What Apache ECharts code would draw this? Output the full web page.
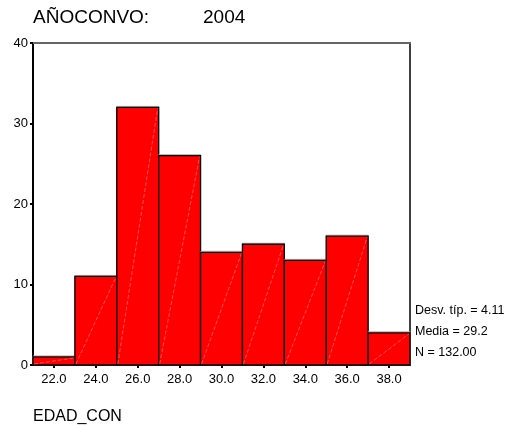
<!DOCTYPE html>
<html>
<head>
<meta charset="utf-8">
<script src="https://cdn.jsdelivr.net/npm/echarts@6/dist/echarts.min.js"></script>
<style>
html,body{margin:0;padding:0;background:#fff;}
#chart{width:512px;height:427px;}
</style>
</head>
<body>
<div id="chart"></div>
<script>
var categories = ["22.0","24.0","26.0","28.0","30.0","32.0","34.0","36.0","38.0"];
var counts = [1, 11, 32, 26, 14, 15, 13, 16, 4];
var yTicks = [0, 10, 20, 30, 40];
var titleLabel = "AÑOCONVO:";
var titleValue = "2004";
var xTitle = "EDAD_CON";
var statsLines = ["Desv. típ. = 4.11", "Media = 29.2", "N = 132.00"];

var FONT = "'Liberation Sans', Arial, sans-serif";
var chart = echarts.init(document.getElementById('chart'), null, {renderer: 'canvas'});

var seriesData = counts.map(function (v, i) { return [i, v]; });

var option = {
  animation: false,
  backgroundColor: '#fff',
  grid: {left: 33, right: 102, top: 43, bottom: 62},
  xAxis: [{
    type: 'category',
    data: categories,
    boundaryGap: true,
    position: 'bottom',
    axisLine: {show: true, onZero: false, lineStyle: {color: '#000', width: 1}},
    axisTick: {show: true, alignWithLabel: true, length: 3, lineStyle: {color: '#000', width: 2}},
    axisLabel: {fontFamily: FONT, fontSize: 13, color: '#000', margin: 8},
    splitLine: {show: false}
  }, {
    type: 'category',
    data: categories,
    position: 'top',
    axisLine: {show: true, onZero: false, lineStyle: {color: '#666', width: 2}},
    axisTick: {show: false},
    axisLabel: {show: false}
  }],
  yAxis: [{
    type: 'value',
    min: yTicks[0],
    max: yTicks[yTicks.length - 1],
    interval: 10,
    axisLine: {show: true, onZero: false, lineStyle: {color: '#000', width: 2}},
    axisTick: {show: true, length: 3, lineStyle: {color: '#000', width: 2}},
    axisLabel: {fontFamily: FONT, fontSize: 13, color: '#000', margin: 5},
    splitLine: {show: false}
  }, {
    type: 'value',
    min: yTicks[0],
    max: yTicks[yTicks.length - 1],
    interval: 10,
    position: 'right',
    axisLine: {show: true, onZero: false, lineStyle: {color: '#000', width: 1.5}},
    axisTick: {show: false},
    axisLabel: {show: false},
    splitLine: {show: false}
  }],
  series: [{
    type: 'custom',
    xAxisIndex: 0,
    yAxisIndex: 0,
    data: seriesData,
    renderItem: function (params, api) {
      var idx = api.value(0);
      var v = api.value(1);
      var p0 = api.coord([idx, 0]);
      var p1 = api.coord([idx, v]);
      var w = api.size([1, 0])[0];
      var x = p0[0] - w / 2;
      var y = p1[1];
      var h = p0[1] - p1[1];
      return {
        type: 'group',
        children: [{
          type: 'rect',
          shape: {x: x, y: y - 1, width: w, height: h + 1},
          style: {fill: 'none', stroke: '#aaa', lineWidth: 1}
        }, {
          type: 'rect',
          shape: {x: x, y: y, width: w, height: h},
          style: {fill: '#ff0000', stroke: '#000', lineWidth: 1.3}
        }, {
          type: 'line',
          shape: {x1: x + 1, y1: p0[1] - 1, x2: x + w - 1, y2: y + 1},
          style: {stroke: 'rgba(255,170,170,0.6)', lineWidth: 0.8, lineDash: [4, 2]}
        }]
      };
    },
    z: 3
  }],
  graphic: [
    {type: 'text', left: 33, top: 8, style: {text: titleLabel, font: '19px ' + FONT, fill: '#000'}},
    {type: 'text', left: 203, top: 8, style: {text: titleValue, font: '19px ' + FONT, fill: '#000'}},
    {type: 'text', left: 33, top: 409, style: {text: xTitle, font: '16px ' + FONT, fill: '#000'}},
    {type: 'text', left: 415, top: 304, style: {text: statsLines[0], font: '12.5px ' + FONT, fill: '#000'}},
    {type: 'text', left: 415, top: 325, style: {text: statsLines[1], font: '12.5px ' + FONT, fill: '#000'}},
    {type: 'text', left: 415, top: 346, style: {text: statsLines[2], font: '12.5px ' + FONT, fill: '#000'}}
  ]
};
chart.setOption(option);
</script>
</body>
</html>
